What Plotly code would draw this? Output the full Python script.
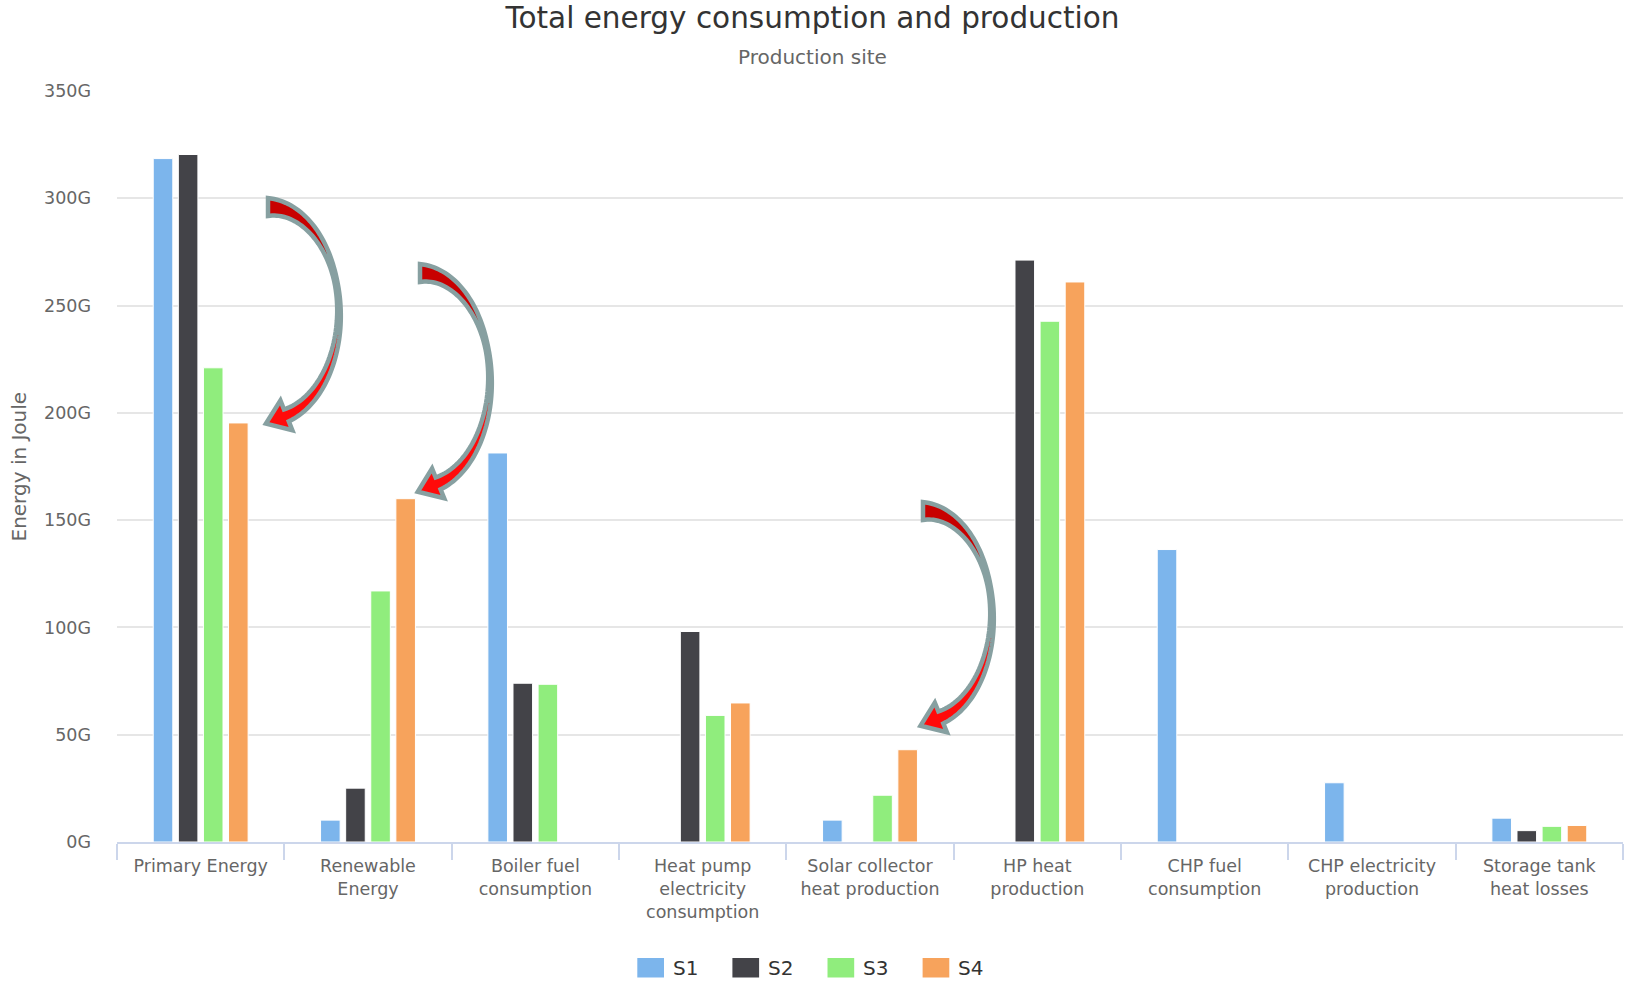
import numpy as np
import plotly.graph_objects as go

# ---- data (values in GJ, shown with a "G" suffix) ----
categories = [
    "Primary Energy",
    "Renewable<br>Energy",
    "Boiler fuel<br>consumption",
    "Heat pump<br>electricity<br>consumption",
    "Solar collector<br>heat production",
    "HP heat<br>production",
    "CHP fuel<br>consumption",
    "CHP electricity<br>production",
    "Storage tank<br>heat losses",
]
s1 = [318.5, 10.2, 181.3, None, 10.2, None, 136.3, 27.6, 11.1]
s2 = [320.4, 25.1, 74.0, 98.1, None, 271.2, None, None, 5.3]
s3 = [221.0, 117.0, 73.5, 59.0, 21.8, 242.7, None, None, 7.3]
s4 = [195.3, 160.0, None, 64.8, 43.0, 261.0, None, None, 7.7]
series_names = ["S1", "S2", "S3", "S4"]
series_colors = ["#7cb5ec", "#434348", "#90ed7d", "#f7a35c"]
y_ticks = [0, 50, 100, 150, 200, 250, 300, 350]
y_tick_text = [f"{v}G" for v in y_ticks]

# ---- page / plot-area geometry (pixels) ----
FIG_W, FIG_H = 1625, 983
PLOT_L, PLOT_R, PLOT_T, PLOT_B = 117, 1623, 91, 842
FONT = "DejaVu Sans"


def to_paper(px, py):
    return ((px - PLOT_L) / (PLOT_R - PLOT_L), (PLOT_B - py) / (PLOT_B - PLOT_T))


def path_from(points):
    pts = [to_paper(px, py) for px, py in points]
    return "M " + " L ".join(f"{x:.5f},{y:.5f}" for x, y in pts) + " Z"


def curved_arrow(cx, cy, a, b, th0=-90.0, th1=75.0, n=80, t_mid=0.45):
    """Half-ellipse arrow bending right then back left, ending in a head."""
    t = np.linspace(0.0, 1.0, n)
    th = np.radians(th0 + (th1 - th0) * t)
    x = cx + a * np.cos(th)
    y = cy + b * np.sin(th)
    dx = -a * np.sin(th)
    dy = b * np.cos(th)
    ln = np.hypot(dx, dy)
    dx, dy = dx / ln, dy / ln
    nx, ny = -dy, dx
    w = np.where(t < t_mid,
                 3 + 15 * ((t_mid - t) / t_mid) ** 1.6,
                 3 + 10 * ((t - t_mid) / (1 - t_mid)) ** 1.6)
    inner = [(x[i] + nx[i] * w[i] / 2, y[i] + ny[i] * w[i] / 2) for i in range(n)]
    outer = [(x[i] - nx[i] * w[i] / 2, y[i] - ny[i] * w[i] / 2) for i in range(n)]
    bx, by = x[-1], y[-1]
    tip = (bx + 22 * dx[-1], by + 22 * dy[-1])
    barb_in = (bx + 16 * nx[-1], by + 16 * ny[-1])
    barb_out = (bx - 16 * nx[-1], by - 16 * ny[-1])
    k = int(round(t_mid * (n - 1)))
    upper = inner[:k + 1] + outer[:k + 1][::-1]
    lower = inner[k:] + [barb_in, tip, barb_out] + outer[k:][::-1]
    whole = inner + [barb_in, tip, barb_out] + outer[::-1]
    return upper, lower, whole


fig = go.Figure()
for name, vals, col in zip(series_names, [s1, s2, s3, s4], series_colors):
    fig.add_trace(go.Bar(
        x=categories, y=vals, name=name,
        marker=dict(color=col, line=dict(color="white", width=1)),
    ))

shapes = []
annotations = []

# curved call-out arrows
arrow_specs = [
    dict(cx=268, cy=313, a=71, b=106),
    dict(cx=420, cy=380, a=70, b=107),
    dict(cx=923, cy=616, a=69, b=105),
]
for spec in arrow_specs:
    upper, lower, whole = curved_arrow(**spec)
    shapes.append(dict(type="path", xref="paper", yref="paper", path=path_from(upper),
                       fillcolor="#c80000", line=dict(width=0), layer="above"))
    shapes.append(dict(type="path", xref="paper", yref="paper", path=path_from(lower),
                       fillcolor="#ff0a0a", line=dict(width=0), layer="above"))
    shapes.append(dict(type="path", xref="paper", yref="paper", path=path_from(whole),
                       fillcolor="rgba(0,0,0,0)", line=dict(color="#87a0a1", width=4.5),
                       layer="above"))

# legend row
for i, (name, col) in enumerate(zip(series_names, series_colors)):
    bx0 = 637.3 + i * 95.1
    bx1 = bx0 + 26.7
    x0, y0 = to_paper(bx0, 977.5)
    x1, y1 = to_paper(bx1, 958)
    shapes.append(dict(type="rect", xref="paper", yref="paper", x0=x0, x1=x1, y0=y0, y1=y1,
                       fillcolor=col, line=dict(width=0)))
    tx, ty = to_paper(bx1 + 6.5, 967.5)
    annotations.append(dict(xref="paper", yref="paper", x=tx, y=ty, text=name, showarrow=False,
                            xanchor="left", yanchor="middle",
                            font=dict(family=FONT, size=20, color="#333333")))

# subtitle
sx, sy = to_paper(FIG_W / 2, 57)
annotations.append(dict(xref="paper", yref="paper", x=sx, y=sy, text="Production site",
                        showarrow=False, xanchor="center", yanchor="middle",
                        font=dict(family=FONT, size=20, color="#666666")))

# y-axis title
ax, ay = to_paper(18.5, 467)
annotations.append(dict(xref="paper", yref="paper", x=ax, y=ay, text="Energy in Joule",
                        showarrow=False, xanchor="center", yanchor="middle", textangle=-90,
                        font=dict(family=FONT, size=20, color="#666666")))

fig.update_layout(
    width=FIG_W, height=FIG_H,
    margin=dict(l=PLOT_L, r=FIG_W - PLOT_R, t=PLOT_T, b=FIG_H - PLOT_B, pad=0),
    paper_bgcolor="white", plot_bgcolor="white",
    font=dict(family=FONT, color="#666666"),
    barmode="group", bargap=0.4, bargroupgap=0.22,
    showlegend=False,
    title=dict(text="Total energy consumption and production",
               x=0.5, xref="container", xanchor="center",
               y=1 - 18 / FIG_H, yref="container", yanchor="middle",
               font=dict(family=FONT, size=29.5, color="#333333")),
    xaxis=dict(type="category", range=[-0.5, len(categories) - 0.5],
               showline=True, linecolor="#ccd6eb", linewidth=2,
               ticks="outside", tickson="boundaries", ticklen=16,
               tickcolor="#ccd6eb", tickwidth=1.5,
               showgrid=False, zeroline=False, ticklabelstandoff=7,
               tickfont=dict(family=FONT, size=17.5, color="#666666")),
    yaxis=dict(range=[0, 350], tickmode="array", tickvals=y_ticks, ticktext=y_tick_text,
               showgrid=True, gridcolor="#e6e6e6", gridwidth=2,
               zeroline=False, showline=False, ticks="", ticklabelstandoff=25,
               tickfont=dict(family=FONT, size=17.5, color="#666666")),
    shapes=shapes,
    annotations=annotations,
)

fig.write_html("out.html")
